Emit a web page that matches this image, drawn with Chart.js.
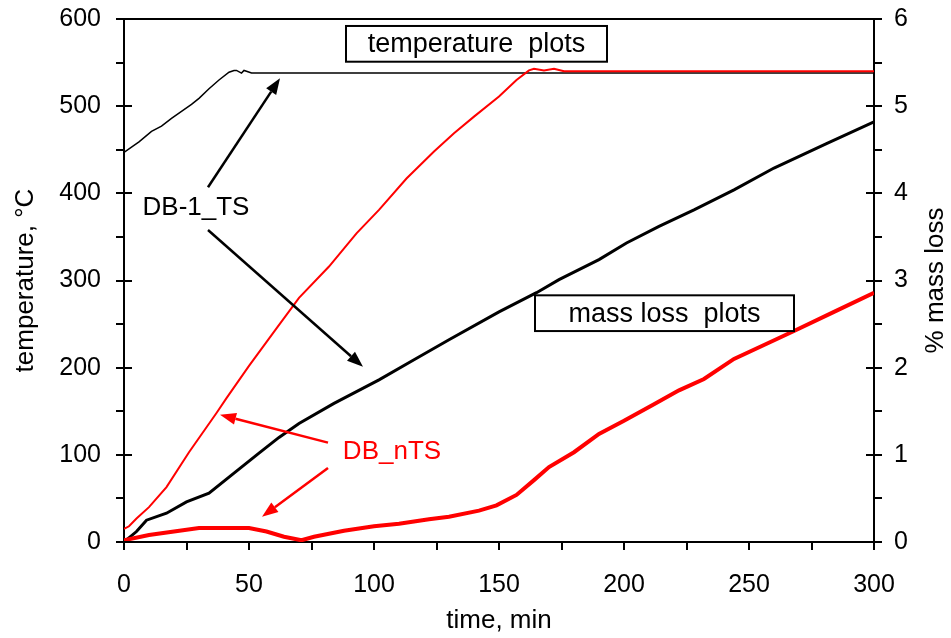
<!DOCTYPE html>
<html>
<head>
<meta charset="utf-8">
<script src="https://cdn.jsdelivr.net/npm/chart.js@4.4.0/dist/chart.umd.min.js"></script>
<style>
  html, body { margin: 0; padding: 0; background: #fff; }
</style>
</head>
<body>
<canvas id="chart" width="951" height="638"></canvas>
<script>
// DB-1_TS temperature (left axis, deg C)
var time_temp_black = [0, 3, 6, 11, 15, 19, 23, 27, 30, 34, 38, 42, 44, 45, 47, 48, 49, 51, 60, 100, 150, 200, 250, 300];
var temp_black = [447, 453, 459, 471, 477, 486, 494, 502, 509, 520, 530, 539, 541, 541, 538, 541, 540, 538, 538, 538, 538, 538, 538, 538];

// DB_nTS temperature (left axis, deg C)
var time_temp_red = [0, 2, 5, 10, 17, 26, 37, 41, 50, 61, 70, 82, 93, 102, 113, 124, 132, 140, 150, 157, 162, 164, 168, 172, 176, 200, 250, 300];
var temp_red = [15, 18, 27, 40, 63, 103, 148, 165, 202, 245, 280, 316, 354, 381, 417, 448, 469, 488, 511, 530, 541, 543, 541, 543, 540, 540, 540, 540];

// DB-1_TS mass loss (right axis, %)
var time_mass_black = [0, 5, 9, 17, 25, 34, 44, 54, 62, 70, 84, 102, 116, 130, 150, 165, 174, 190, 201, 214, 228, 244, 260, 281, 300];
var mass_black = [0, 0.12, 0.25, 0.33, 0.46, 0.56, 0.79, 1.02, 1.2, 1.36, 1.59, 1.86, 2.09, 2.32, 2.64, 2.86, 3.01, 3.24, 3.43, 3.62, 3.81, 4.04, 4.29, 4.57, 4.82];

// DB_nTS mass loss (right axis, %)
var time_mass_red = [0, 10, 20, 30, 50, 57, 64, 71, 76, 88, 100, 110, 122, 130, 142, 149, 157, 164, 170, 180, 190, 200, 212, 222, 232, 244, 256, 268, 284, 300];
var mass_red = [0.02, 0.08, 0.12, 0.16, 0.16, 0.12, 0.06, 0.02, 0.06, 0.13, 0.18, 0.21, 0.26, 0.29, 0.36, 0.42, 0.54, 0.71, 0.86, 1.03, 1.24, 1.39, 1.58, 1.74, 1.87, 2.1, 2.26, 2.42, 2.64, 2.86];

// text boxes, labels and arrows, in data units (time, deg C)
var boxes = [
    { text: 'temperature  plots', x1: 88.8, x2: 193.2, y1: 592, y2: 551 },
    { text: 'mass loss  plots', x1: 164.4, x2: 268, y1: 283, y2: 242 }
];
var labels = [
    { text: 'DB-1_TS', x: 28.8, y: 383, color: '#000000' },
    { text: 'DB_nTS', x: 107.2, y: 103, color: '#ff0000' }
];
var arrows = [
    { x1: 33.6, y1: 407, x2: 62.4, y2: 532, color: '#000000' },
    { x1: 33.6, y1: 358, x2: 95.6, y2: 201, color: '#000000' },
    { x1: 81.6, y1: 114, x2: 38.4, y2: 146, color: '#ff0000' },
    { x1: 81.6, y1: 85, x2: 55.2, y2: 29, color: '#ff0000' }
];

var FONT = '"Liberation Sans", Arial, sans-serif';

function toPoints(xs, ys) {
    var pts = [];
    for (let i = 0; i < xs.length; i++) {
        pts.push({ x: xs[i], y: ys[i] });
    }
    return pts;
}

function drawArrow(ctx, x1, y1, x2, y2, color) {
    const ang = Math.atan2(y2 - y1, x2 - x1);
    const len = 16, half = 6;
    const bx = x2 - len * Math.cos(ang);
    const by = y2 - len * Math.sin(ang);
    ctx.strokeStyle = color;
    ctx.fillStyle = color;
    ctx.lineWidth = 2.5;
    ctx.beginPath();
    ctx.moveTo(x1, y1);
    ctx.lineTo(bx, by);
    ctx.stroke();
    ctx.beginPath();
    ctx.moveTo(x2, y2);
    ctx.lineTo(bx + half * Math.sin(ang), by - half * Math.cos(ang));
    ctx.lineTo(bx - half * Math.sin(ang), by + half * Math.cos(ang));
    ctx.closePath();
    ctx.fill();
}

// frame top line, tick marks and the right axis title
var axisDecor = {
    id: 'axisDecor',
    afterDraw: function(chart) {
        const ctx = chart.ctx;
        const area = chart.chartArea;
        const sx = chart.scales.x, sy = chart.scales.y, sy2 = chart.scales.y2;
        ctx.save();
        ctx.strokeStyle = '#000';
        ctx.lineWidth = 2;
        ctx.beginPath();
        ctx.moveTo(area.left, area.top);
        ctx.lineTo(area.right, area.top);
        for (let v = 0; v <= 600; v += 50) {
            const py = Math.round(sy.getPixelForValue(v));
            const major = v % 100 === 0;
            ctx.moveTo(area.left - 8, py);
            ctx.lineTo(area.left + (major ? 8 : 0), py);
        }
        for (let v = 0; v <= 6; v += 0.5) {
            const py = Math.round(sy2.getPixelForValue(v));
            const major = Math.abs(v - Math.round(v)) < 0.01;
            ctx.moveTo(area.right - (major ? 8 : 0), py);
            ctx.lineTo(area.right + 8, py);
        }
        for (let v = 0; v <= 300; v += 25) {
            const px = Math.round(sx.getPixelForValue(v));
            ctx.moveTo(px, area.bottom);
            ctx.lineTo(px, area.bottom + 8);
        }
        ctx.stroke();

        ctx.fillStyle = '#000';
        ctx.font = '26px ' + FONT;
        ctx.textAlign = 'center';
        ctx.textBaseline = 'middle';
        ctx.translate(936, (area.top + area.bottom) / 2);
        ctx.rotate(-Math.PI / 2);
        ctx.fillText('% mass loss', 0, 0);
        ctx.restore();
    }
};

var notes = {
    id: 'notes',
    afterDatasetsDraw: function(chart) {
        const ctx = chart.ctx;
        const sx = chart.scales.x, sy = chart.scales.y;
        ctx.save();
        ctx.textAlign = 'center';
        ctx.textBaseline = 'middle';
        ctx.font = '27px ' + FONT;
        boxes.forEach(b => {
            const l = sx.getPixelForValue(b.x1), r = sx.getPixelForValue(b.x2);
            const t = sy.getPixelForValue(b.y1), bt = sy.getPixelForValue(b.y2);
            ctx.fillStyle = '#fff';
            ctx.fillRect(l, t, r - l, bt - t);
            ctx.strokeStyle = '#000';
            ctx.lineWidth = 2;
            ctx.strokeRect(l, t, r - l, bt - t);
            ctx.fillStyle = '#000';
            ctx.fillText(b.text, (l + r) / 2, (t + bt) / 2 + 1);
        });
        ctx.font = '26px ' + FONT;
        labels.forEach(lb => {
            ctx.fillStyle = lb.color;
            ctx.fillText(lb.text, sx.getPixelForValue(lb.x), sy.getPixelForValue(lb.y));
        });
        arrows.forEach(a => {
            drawArrow(ctx, sx.getPixelForValue(a.x1), sy.getPixelForValue(a.y1),
                sx.getPixelForValue(a.x2), sy.getPixelForValue(a.y2), a.color);
        });
        ctx.restore();
    }
};

Chart.defaults.font.family = FONT;
Chart.defaults.color = '#000';

new Chart(document.getElementById('chart'), {
    type: 'line',
    data: {
        datasets: [{
            label: 'DB_nTS temperature',
            data: toPoints(time_temp_red, temp_red),
            borderColor: '#ff0000',
            borderWidth: 2,
            yAxisID: 'y'
        }, {
            label: 'DB_nTS mass loss',
            data: toPoints(time_mass_red, mass_red),
            borderColor: '#ff0000',
            borderWidth: 4,
            yAxisID: 'y2'
        }, {
            label: 'DB-1_TS temperature',
            data: toPoints(time_temp_black, temp_black),
            borderColor: '#000000',
            borderWidth: 1.5,
            yAxisID: 'y'
        }, {
            label: 'DB-1_TS mass loss',
            data: toPoints(time_mass_black, mass_black),
            borderColor: '#000000',
            borderWidth: 3,
            yAxisID: 'y2'
        }]
    },
    options: {
        responsive: false,
        animation: false,
        layout: { padding: { top: 19, left: 0, right: 0, bottom: 0 } },
        elements: { point: { radius: 0 }, line: { tension: 0, fill: false } },
        plugins: { legend: { display: false }, tooltip: { enabled: false } },
        scales: {
            x: {
                type: 'linear',
                min: 0,
                max: 300,
                ticks: { stepSize: 50, font: { size: 25 }, padding: 20, color: '#000' },
                grid: { display: false },
                border: { display: true, color: '#000', width: 2 },
                title: { display: true, text: 'time, min', font: { size: 26 }, padding: { top: 0, bottom: 2 } },
                afterFit: function(scale) { scale.height = 96; }
            },
            y: {
                position: 'left',
                min: 0,
                max: 600,
                ticks: { stepSize: 100, font: { size: 25 }, padding: 15, color: '#000' },
                grid: { display: false },
                border: { display: true, color: '#000', width: 2 },
                title: { display: true, text: 'temperature, \u00B0C', font: { size: 26 }, padding: { top: 10, bottom: 0 } },
                afterFit: function(scale) {
                    scale.width = 124;
                    scale.paddingTop = 0;
                    scale.paddingBottom = 0;
                }
            },
            y2: {
                position: 'right',
                min: 0,
                max: 6,
                ticks: { stepSize: 1, font: { size: 25 }, padding: 12, color: '#000' },
                grid: { display: false },
                border: { display: true, color: '#000', width: 2 },
                afterFit: function(scale) {
                    scale.width = 77;
                    scale.paddingTop = 0;
                    scale.paddingBottom = 0;
                }
            }
        }
    },
    plugins: [axisDecor, notes]
});
</script>
</body>
</html>
